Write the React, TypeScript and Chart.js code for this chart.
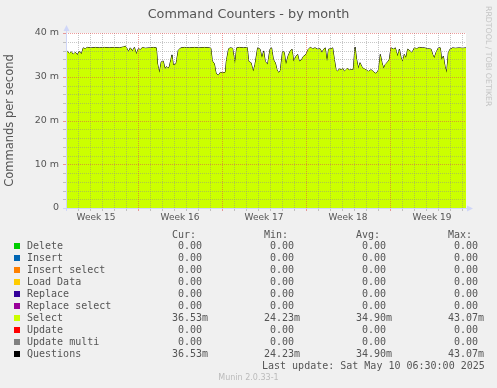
import React, { useEffect, useRef } from "react";
import { Chart, registerables } from "chart.js";

Chart.register(...registerables);

const chartTitle = "Command Counters - by month";
const yAxisTitle = "Commands per second";
const watermark = "RRDTOOL / TOBI OETIKER";
const footer = "Munin 2.0.33-1";
const lastUpdate = "Last update: Sat May 10 06:30:00 2025";

const weekLabels = ["Week 15", "Week 16", "Week 17", "Week 18", "Week 19"];
const weekCenters = [2.5, 9.5, 16.5, 23.5, 30.5];
const weekBoundaries = [6, 13, 20, 27];
const dayTicks = Array.from({ length: 33 }, (_, i) => i + 1);
const rangeDays = 33.33;
const yMajorTicks = [0, 10, 20, 30, 40];
const yMinorTicks = [2, 4, 6, 8, 12, 14, 16, 18, 22, 24, 26, 28, 32, 34, 36, 38];

const timeDays = [
  0, 0.1, 0.28, 0.44, 0.6, 0.78, 0.94, 1.1, 1.28, 1.44, 1.6, 1.78, 2.1, 2.44, 2.78, 3.2, 3.6, 4.0,
  4.44, 4.78, 4.94, 5.07, 5.2, 5.36, 5.53, 5.7, 5.86, 6.03, 6.2, 6.36, 6.6, 6.94, 7.28, 7.53, 7.63,
  7.78, 7.94, 8.1, 8.25, 8.36, 8.48, 8.6, 8.83, 8.94, 9.17, 9.36, 9.58, 9.86, 10.28, 10.7, 11.1,
  11.53, 11.94, 12.07, 12.19, 12.36, 12.5, 12.69, 12.86, 13.03, 13.28, 13.36, 13.55, 13.7, 13.88,
  14.08, 14.22, 14.44, 14.78, 15.1, 15.22, 15.42, 15.6, 15.75, 15.97, 16.17, 16.33, 16.47, 16.6,
  16.8, 17.0, 17.13, 17.28, 17.44, 17.58, 17.72, 17.86, 18.05, 18.19, 18.33, 18.5, 18.69, 18.83,
  18.97, 19.17, 19.3, 19.44, 19.63, 19.8, 20.0, 20.19, 20.36, 20.55, 20.75, 20.97, 21.17, 21.33,
  21.47, 21.6, 21.75, 21.88, 22.08, 22.22, 22.36, 22.5, 22.63, 22.78, 22.92, 23.07, 23.19, 23.36,
  23.47, 23.6, 23.75, 23.94, 24.08, 24.22, 24.36, 24.5, 24.63, 24.78, 25.0, 25.19, 25.42, 25.6,
  25.83, 26.05, 26.19, 26.33, 26.47, 26.6, 26.75, 26.94, 27.08, 27.28, 27.44, 27.63, 27.78, 27.92,
  28.05, 28.19, 28.33, 28.47, 28.67, 28.83, 29.03, 29.22, 29.44, 29.67, 29.86, 30.13, 30.42, 30.55,
  30.69, 30.83, 31.03, 31.19, 31.3, 31.44, 31.58, 31.72, 31.86, 32.0, 32.22, 32.44, 32.78, 33.03,
  33.33,
];

const selectMilli = [
  35.6, 35.8, 35.3, 35.7, 35.1, 35.6, 35.0, 35.8, 35.2, 36.6, 36.4, 36.7, 36.6, 36.7, 36.6, 36.7, 36.6, 36.7,
  36.6, 36.8, 37.0, 36.5, 35.7, 36.6, 35.9, 36.7, 35.2, 36.4, 36.2, 36.7, 36.5, 36.6, 36.7, 36.6, 32.9,
  30.9, 33.4, 33.6, 31.8, 32.3, 32.0, 32.2, 35.0, 32.7, 32.9, 36.1, 36.6, 36.7, 36.6, 36.7, 36.6,
  36.7, 36.6, 36.5, 33.6, 33.0, 30.8, 30.3, 31.0, 30.9, 31.0, 33.5, 36.4, 36.6, 36.5,
  33.0, 36.6, 36.7, 36.6, 36.7, 33.5, 33.2, 31.2, 32.8, 36.6, 36.3, 34.3, 35.9, 33.5,
  32.8, 36.3, 36.6, 33.9, 33.2, 31.6, 30.9, 31.4, 35.9, 35.5, 32.8, 34.7, 35.9, 36.3,
  33.5, 34.7, 35.1, 33.5, 33.9, 34.7, 35.1, 36.3, 36.7, 36.4, 36.6, 36.3, 36.4, 35.5,
  36.3, 36.6, 33.5, 36.3, 36.4, 36.6, 33.9, 31.6, 31.2, 31.8, 31.6, 31.9, 31.2, 31.7,
  31.9, 31.5, 31.6, 31.6, 36.8, 33.9, 31.9, 33.2, 32.4, 31.9, 31.6, 31.2, 31.6, 31.2,
  30.7, 31.6, 35.1, 33.2, 31.9, 32.8, 33.2, 33.9, 36.6, 36.3, 36.6, 34.7, 36.3, 34.3,
  33.5, 35.1, 34.3, 36.3, 35.9, 35.5, 36.6, 36.4, 36.7, 36.6, 36.6, 36.4, 36.3, 35.1,
  34.3, 35.5, 36.6, 36.6, 33.9, 34.7, 32.4, 30.9, 35.5, 36.3, 36.6, 36.5, 36.6, 36.5,
  36.6,
];

const questionsMilli = selectMilli;

const legendLabels = [
  "Delete", "Insert", "Insert select", "Load Data", "Replace",
  "Replace select", "Select", "Update", "Update multi", "Questions",
];
const legendColors = [
  "#00CC00", "#0066B3", "#FF8000", "#FFCC00", "#330099",
  "#990099", "#CCFF00", "#FF0000", "#808080", "#000000",
];
const legendHeaders = ["Cur:", "Min:", "Avg:", "Max:"];
const curValues = [0, 0, 0, 0, 0, 0, 36.53, 0, 0, 36.53];
const minValues = [0, 0, 0, 0, 0, 0, 24.23, 0, 0, 24.23];
const avgValues = [0, 0, 0, 0, 0, 0, 34.9, 0, 0, 34.9];
const maxValues = [0, 0, 0, 0, 0, 0, 43.07, 0, 0, 43.07];

const TEXT = "#555555";
const AXIS = "#CFD6F8";
const GRID = "rgba(143,143,143,0.5)";
const MGRID = "rgba(222,79,79,0.55)";

function fmtMilli(v: number): string {
  const s = v === 0 ? "0.00" : v.toFixed(2);
  return s.padStart(6, " ") + (v === 0 ? " " : "m");
}

const muninPlugin = {
  id: "munin",
  beforeDraw(chart: any) {
    const { ctx, chartArea: a } = chart;
    ctx.save();
    ctx.fillStyle = "#F0F0F0";
    ctx.fillRect(0, 0, chart.width, chart.height);
    ctx.fillStyle = "#FFFFFF";
    ctx.fillRect(a.left, a.top, a.right - a.left, a.bottom - a.top);
    ctx.restore();
  },
  afterDatasetDraw(chart: any, args: any) {
    if (args.index !== 0) return;
    const { ctx, chartArea: a, scales } = chart;
    const xs = scales.x;
    const ys = scales.y;
    ctx.save();
    ctx.lineWidth = 1;
    const vline = (d: number, color: string) => {
      const x = Math.round(xs.getPixelForValue(d)) + 0.5;
      ctx.strokeStyle = color;
      ctx.setLineDash([1, 1]);
      ctx.beginPath();
      ctx.moveTo(x, a.top);
      ctx.lineTo(x, a.bottom);
      ctx.stroke();
      ctx.setLineDash([]);
      ctx.beginPath();
      ctx.moveTo(x, a.bottom);
      ctx.lineTo(x, a.bottom + 3);
      ctx.stroke();
    };
    const hline = (v: number, color: string) => {
      const y = Math.round(ys.getPixelForValue(v)) + 0.5;
      ctx.strokeStyle = color;
      ctx.setLineDash([1, 1]);
      ctx.beginPath();
      ctx.moveTo(a.left, y);
      ctx.lineTo(a.right, y);
      ctx.stroke();
      ctx.setLineDash([]);
      ctx.beginPath();
      ctx.moveTo(a.left - 3, y);
      ctx.lineTo(a.left, y);
      ctx.stroke();
    };
    dayTicks.forEach((d) => {
      if (!weekBoundaries.includes(d)) vline(d, GRID);
    });
    yMinorTicks.forEach((v) => hline(v, GRID));
    weekBoundaries.forEach((d) => vline(d, MGRID));
    yMajorTicks.forEach((v) => {
      if (v !== 0) hline(v, MGRID);
    });
    ctx.restore();
  },
  afterDraw(chart: any) {
    const { ctx, chartArea: a } = chart;
    ctx.save();
    // axes
    ctx.strokeStyle = AXIS;
    ctx.fillStyle = AXIS;
    ctx.lineWidth = 1;
    const ax = a.left + 0.5;
    const ay = a.bottom + 0.5;
    ctx.beginPath();
    ctx.moveTo(ax, a.bottom + 3);
    ctx.lineTo(ax, a.top - 4);
    ctx.moveTo(a.left - 3, ay);
    ctx.lineTo(a.right + 4, ay);
    ctx.stroke();
    ctx.beginPath();
    ctx.moveTo(ax, a.top - 8);
    ctx.lineTo(ax - 3, a.top - 2);
    ctx.lineTo(ax + 3, a.top - 2);
    ctx.closePath();
    ctx.fill();
    ctx.beginPath();
    ctx.moveTo(a.right + 7, ay);
    ctx.lineTo(a.right + 1, ay - 3);
    ctx.lineTo(a.right + 1, ay + 3);
    ctx.closePath();
    ctx.fill();

    // title
    ctx.fillStyle = TEXT;
    ctx.font = '12.8px "DejaVu Sans"';
    ctx.textAlign = "center";
    ctx.textBaseline = "alphabetic";
    ctx.fillText(chartTitle, 248.5, 18);

    // watermark
    ctx.save();
    ctx.fillStyle = "#C4C4C4";
    ctx.font = '7.8px "DejaVu Sans"';
    ctx.translate(486, 6);
    ctx.rotate(Math.PI / 2);
    ctx.textAlign = "left";
    ctx.textBaseline = "alphabetic";
    ctx.fillText(watermark, 0, 0);
    ctx.restore();

    // legend
    const cols = [166, 258, 350, 442];
    const colValues = [curValues, minValues, avgValues, maxValues];
    ctx.font = '10px "DejaVu Sans Mono"';
    ctx.textAlign = "left";
    ctx.textBaseline = "alphabetic";
    ctx.fillStyle = TEXT;
    legendHeaders.forEach((h, j) => ctx.fillText(h, cols[j] + 6, 238));
    legendLabels.forEach((label, i) => {
      const base = 249 + 12 * i;
      ctx.fillStyle = legendColors[i];
      ctx.fillRect(14, base - 6, 6, 6);
      ctx.fillStyle = TEXT;
      ctx.fillText(label, 27, base);
      colValues.forEach((arr, j) => ctx.fillText(fmtMilli(arr[i]), cols[j], base));
    });
    ctx.fillText(lastUpdate, 262, 369);

    ctx.fillStyle = "#BBBBBB";
    ctx.font = '8px "DejaVu Sans"';
    ctx.textAlign = "center";
    ctx.fillText(footer, 248.5, 380);
    ctx.restore();
  },
};

export default function App() {
  const ref = useRef<HTMLCanvasElement | null>(null);

  useEffect(() => {
    if (!ref.current) return;
    const selectPoints = timeDays.map((d, i) => ({ x: d, y: selectMilli[i] }));
    const questionPoints = timeDays.map((d, i) => ({ x: d, y: questionsMilli[i] }));
    const chart = new Chart(ref.current, {
      type: "line",
      data: {
        datasets: [
          {
            label: "Select",
            data: selectPoints,
            fill: "origin",
            backgroundColor: "#CCFF00",
            borderWidth: 0,
            borderColor: "rgba(0,0,0,0)",
            pointRadius: 0,
            tension: 0,
          },
          {
            label: "Questions",
            data: questionPoints,
            fill: false,
            borderColor: "#000000",
            borderWidth: 1,
            pointRadius: 0,
            tension: 0,
          },
        ],
      },
      plugins: [muninPlugin],
      options: {
        animation: false,
        responsive: false,
        devicePixelRatio: 1,
        layout: { padding: { left: 0, right: 31, top: 33, bottom: 0 } },
        plugins: {
          legend: { display: false },
          tooltip: { enabled: false },
          title: { display: false },
        },
        scales: {
          x: {
            type: "linear",
            min: 0,
            max: rangeDays,
            grid: { display: false, drawTicks: false },
            border: { display: false },
            afterFit: (s: any) => {
              s.height = 180;
            },
            afterBuildTicks: (s: any) => {
              s.ticks = weekCenters.map((v) => ({ value: v }));
            },
            ticks: {
              autoSkip: false,
              maxRotation: 0,
              padding: 4,
              color: TEXT,
              font: { family: '"DejaVu Sans"', size: 9 },
              callback: (_v: any, i: number) => weekLabels[i],
            },
          },
          y: {
            type: "linear",
            min: 0,
            max: 40,
            grid: { display: false, drawTicks: false },
            border: { display: false },
            afterFit: (s: any) => {
              s.width = 66;
            },
            afterBuildTicks: (s: any) => {
              s.ticks = yMajorTicks.map((v) => ({ value: v }));
            },
            ticks: {
              padding: 7,
              color: TEXT,
              font: { family: '"DejaVu Sans"', size: 9.5 },
              callback: (v: any) => (v === 0 ? "0" : v + " m"),
            },
            title: {
              display: true,
              text: yAxisTitle,
              color: TEXT,
              padding: { top: 3, bottom: 0 },
              font: { family: '"DejaVu Sans"', size: 11.5 },
            },
          },
        },
      },
    });
    return () => chart.destroy();
  }, []);

  return (
    <div style={{ position: "fixed", left: 0, top: 0, width: 497, height: 388, background: "#F0F0F0" }}>
      <canvas ref={ref} width={497} height={388} style={{ display: "block", width: 497, height: 388 }} />
    </div>
  );
}
